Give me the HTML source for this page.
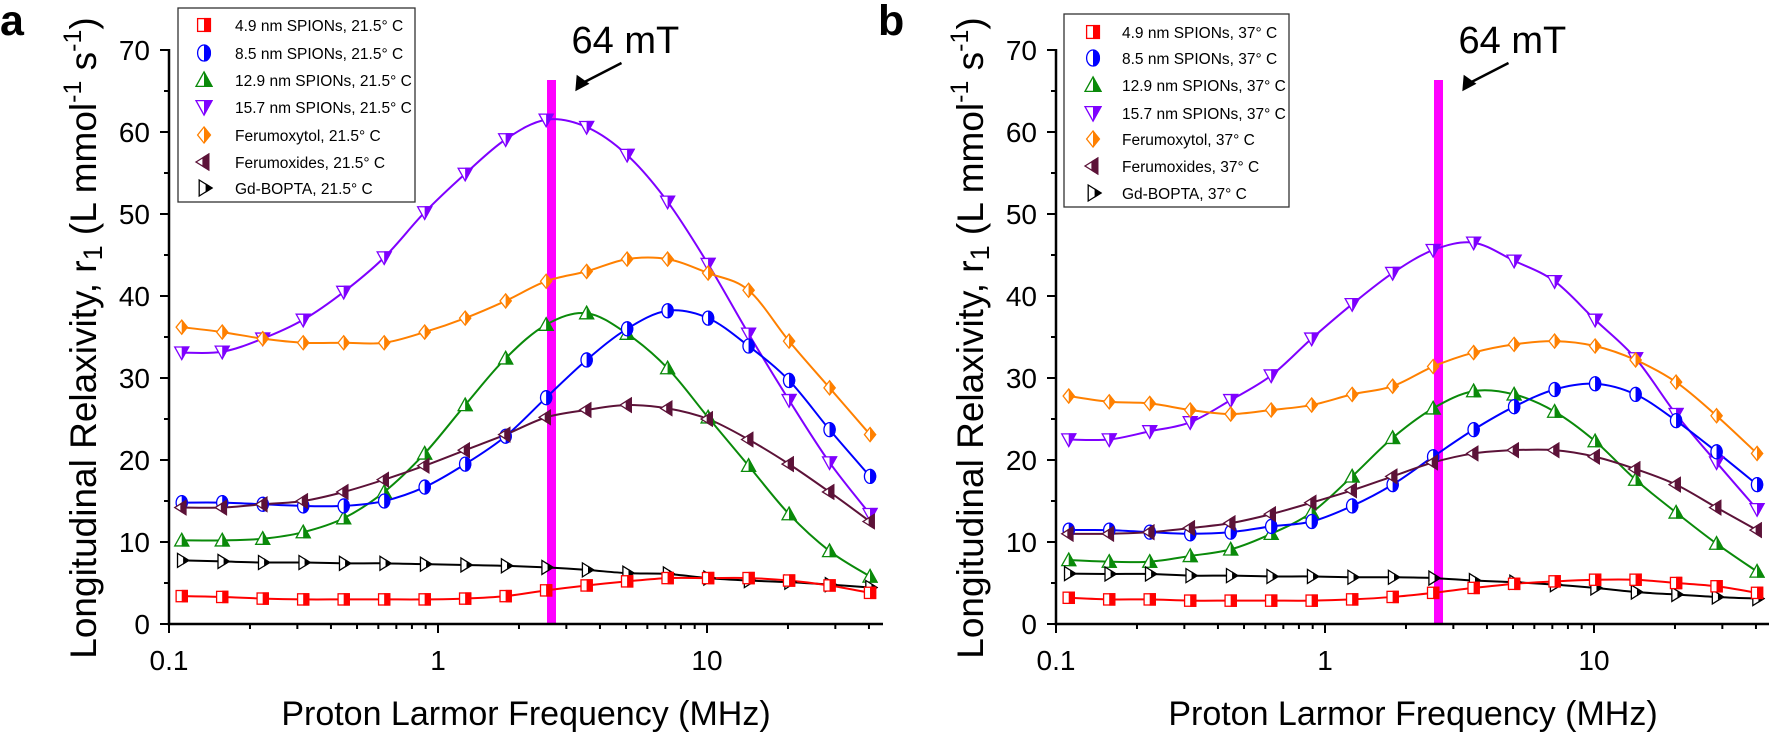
<!DOCTYPE html>
<html><head><meta charset="utf-8"><style>
html,body{margin:0;padding:0;background:#fff;}
svg{display:block;font-family:"Liberation Sans",Arial,sans-serif;}
</style></head><body>
<svg id="s" width="1770" height="737" viewBox="0 0 1770 737" xmlns="http://www.w3.org/2000/svg">
<defs><clipPath id="rh" clipPathUnits="objectBoundingBox"><rect x="0.5" y="-0.1" width="0.6" height="1.2"/></clipPath></defs>
</svg>
<script>
const S=document.getElementById('s');const NS='http://www.w3.org/2000/svg';
function el(t,a,p){const e=document.createElementNS(NS,t);for(const k in a)e.setAttribute(k,a[k]);(p||S).appendChild(e);return e;}
function txt(x,y,s,a){const e=el('text',Object.assign({x:x,y:y},a||{}));e.textContent=s;return e;}
const DEC=269, Y0=624, YU=8.2;
const xs=[];for(let i=0;i<18;i++)xs.push(0.1115*Math.pow(Math.SQRT2,i));
const cols={r:'#ff0000',b:'#0000ff',g:'#0a8a0a',p:'#7f00ff',o:'#ff8000',m:'#5c1238',k:'#000000'};
const A={
p:[33.1,33.2,34.8,37.1,40.5,44.7,50.2,54.9,59.1,61.5,60.6,57.2,51.5,43.9,35.4,27.3,19.7,13.4],
o:[36.2,35.6,34.8,34.3,34.3,34.3,35.6,37.3,39.4,41.8,43.0,44.5,44.5,42.8,40.7,34.5,28.8,23.1],
g:[10.2,10.2,10.4,11.2,12.9,16.1,20.8,26.7,32.4,36.5,37.9,35.4,31.2,25.2,19.3,13.4,8.9,5.8],
b:[14.8,14.8,14.6,14.4,14.4,15.0,16.7,19.5,22.9,27.6,32.2,36.0,38.2,37.3,33.9,29.7,23.7,18.0],
m:[14.2,14.2,14.6,15.0,16.1,17.6,19.3,21.2,23.1,25.2,26.1,26.7,26.3,25.0,22.5,19.5,16.1,12.5],
k:[7.76,7.63,7.5,7.5,7.4,7.4,7.3,7.2,7.1,6.9,6.6,6.2,6.1,5.6,5.3,5.1,4.8,4.45],
r:[3.4,3.3,3.1,3.0,3.0,3.0,3.0,3.1,3.4,4.1,4.7,5.2,5.6,5.6,5.6,5.3,4.7,3.8]};
const B={
p:[22.5,22.5,23.5,24.6,27.3,30.3,34.8,39.0,42.8,45.6,46.5,44.3,41.8,37.1,32.4,25.6,19.7,14.0],
o:[27.8,27.1,26.9,26.1,25.6,26.1,26.7,28.0,29.0,31.4,33.1,34.1,34.5,33.9,32.2,29.5,25.4,20.8],
g:[7.8,7.6,7.6,8.3,9.1,11.0,13.6,18.0,22.7,26.3,28.4,28.0,25.9,22.3,17.6,13.6,9.8,6.4],
b:[11.45,11.45,11.2,11.0,11.2,11.9,12.5,14.4,17.0,20.4,23.7,26.5,28.6,29.3,28.0,24.8,21.0,17.0],
m:[11.0,11.0,11.2,11.7,12.3,13.4,14.8,16.3,18.0,19.7,20.8,21.2,21.2,20.4,18.9,17.0,14.2,11.45],
k:[6.15,6.1,6.1,5.9,5.9,5.8,5.8,5.7,5.7,5.6,5.3,5.1,4.8,4.4,3.9,3.6,3.3,3.1],
r:[3.2,3.0,3.0,2.85,2.85,2.85,2.85,3.0,3.3,3.8,4.4,4.9,5.2,5.4,5.4,5.0,4.6,3.8]};
function shape(k,cx,cy,r){
 if(k=='r')return['rect',{x:cx-r*0.8,y:cy-r*0.8,width:r*1.6,height:r*1.6}];
 if(k=='b')return['ellipse',{cx:cx,cy:cy,rx:r*0.8,ry:r}];
 let pts;
 if(k=='g')pts=[[cx,cy-r],[cx+r,cy+r*0.8],[cx-r,cy+r*0.8]];
 if(k=='p')pts=[[cx-r,cy-r*0.8],[cx+r,cy-r*0.8],[cx,cy+r]];
 if(k=='o')pts=[[cx,cy-r],[cx+r*0.8,cy],[cx,cy+r],[cx-r*0.8,cy]];
 if(k=='m')pts=[[cx-r,cy],[cx+r*0.6,cy-r],[cx+r*0.6,cy+r]];
 if(k=='k')pts=[[cx-r*0.6,cy-r],[cx+r,cy],[cx-r*0.6,cy+r]];
 return['polygon',{points:pts.map(p=>p.join(',')).join(' ')}];
}
function marker(k,cx,cy,r){r=r||7;const c=cols[k];const [t,a]=shape(k,cx,cy,r);
 el(t,Object.assign({fill:'#fff',stroke:c,'stroke-width':1.3},a));
 el(t,Object.assign({fill:c,stroke:c,'stroke-width':1.3,'clip-path':'url(#rh)'},a));}
function panel(ox,data,temp,letter){
 const X=v=>ox+(Math.log10(v)+1)*DEC, Y=v=>Y0-v*YU;
 const xend=Math.min(ox+714,1769);
 const mx=ox+382.5; el('rect',{x:mx-4.5,y:80,width:9,height:Y0-80,fill:'#ff00ff'});
 for(const k of ['p','o','g','b','m','k','r']){
  const P=data[k].map((v,i)=>[X(xs[i]),Y(v)]);
  let d='M'+P[0].join(',');
  for(let i=0;i<P.length-1;i++){const p0=P[Math.max(0,i-1)],p1=P[i],p2=P[i+1],p3=P[Math.min(P.length-1,i+2)];
   d+=' C'+(p1[0]+(p2[0]-p0[0])/6)+','+(p1[1]+(p2[1]-p0[1])/6)+' '+(p2[0]-(p3[0]-p1[0])/6)+','+(p2[1]-(p3[1]-p1[1])/6)+' '+p2[0]+','+p2[1];}
  el('path',{d:d,fill:'none',stroke:cols[k],'stroke-width':2});
 }
 for(const k of ['p','o','g','b','m','k','r'])data[k].forEach((v,i)=>marker(k,X(xs[i]),Y(v)));
 el('line',{x1:ox,y1:49,x2:ox,y2:Y0+1.25,stroke:'#000','stroke-width':2.5});
 el('line',{x1:ox-1.25,y1:Y0,x2:xend,y2:Y0,stroke:'#000','stroke-width':2.5});
 for(let v=0;v<=70;v+=5){const y=Y(v);el('line',{x1:ox-(v%10?5:9),y1:y,x2:ox,y2:y,stroke:'#000','stroke-width':2});
  if(v%10==0)txt(ox-19,y+10,String(v),{'font-size':28,'text-anchor':'end'});}
 for(let dcd=-1;dcd<=1;dcd++)for(let m=1;m<=9;m++){const v=m*Math.pow(10,dcd);const x=X(v);if(x>xend)continue;
  el('line',{x1:x,y1:Y0,x2:x,y2:Y0+(m==1?9:5),stroke:'#000','stroke-width':2});
  if(m==1)txt(x,670,dcd==-1?'0.1':dcd==0?'1':'10',{'font-size':28,'text-anchor':'middle'});}
 txt(ox+357,725,'Proton Larmor Frequency (MHz)',{'font-size':34,'text-anchor':'middle'});
 const yl=txt(0,0,'',{'font-size':37,'text-anchor':'middle',transform:'translate('+(ox-73)+',338) rotate(-90)'});
 yl.innerHTML='Longitudinal Relaxivity, r<tspan font-size="27" dy="6">1</tspan><tspan dy="-6"> (L mmol</tspan><tspan font-size="25" dy="-15">-1</tspan><tspan dy="15"> s</tspan><tspan font-size="25" dy="-15">-1</tspan><tspan dy="15">)</tspan>';
 txt(mx+20,53,'64 mT',{'font-size':38});
 el('line',{x1:mx+70,y1:63,x2:mx+33,y2:82,stroke:'#000','stroke-width':2.5});
 el('polygon',{points:(mx+21)+',88 '+(mx+30)+',74 '+(mx+37)+',88',fill:'#000',transform:'rotate(-28 '+(mx+29)+' 84)'});
 txt(letter=='a'?0:ox-178,35,letter,{'font-size':43,'font-weight':'bold'});
}
function legend(x0,y0,x1,y1,rows,mx,tx,temp){
 el('rect',{x:x0,y:y0,width:x1-x0,height:y1-y0,fill:'#fff',stroke:'#333','stroke-width':1.3});
 const names=[['r','4.9 nm SPIONs'],['b','8.5 nm SPIONs'],['g','12.9 nm SPIONs'],['p','15.7 nm SPIONs'],['o','Ferumoxytol'],['m','Ferumoxides'],['k','Gd-BOPTA']];
 names.forEach((n,i)=>{marker(n[0],mx,rows[i],8);txt(tx,rows[i]+6,n[1]+', '+temp+'° C',{'font-size':15.5});});
}
panel(169,A,'21.5','a');
panel(1056,B,'37','b');
legend(178,8,415,202,[25,53,80,107,135,162,188],204,235,'21.5');
legend(1064,14,1289,207,[32,58,85,113,139,166,193],1093,1122,'37');
</script>
</body></html>
